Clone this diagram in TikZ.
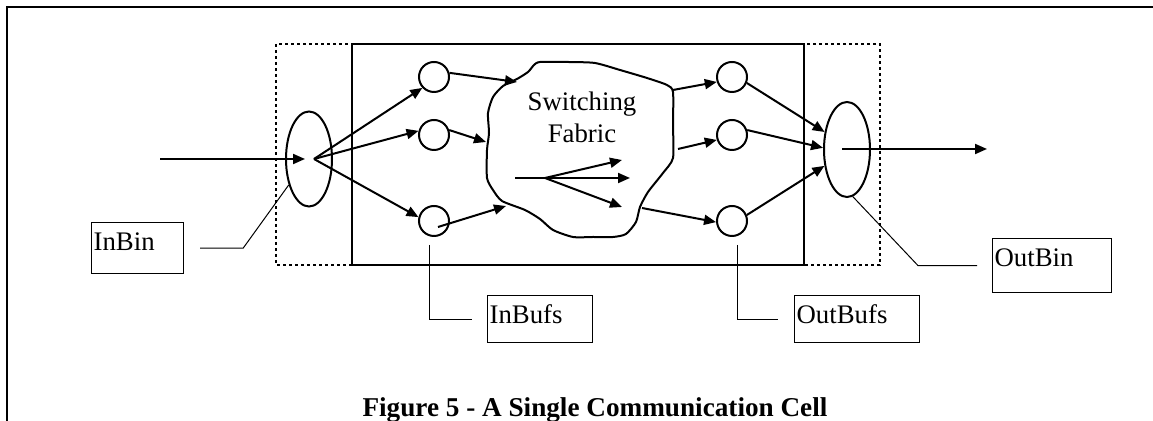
\documentclass[tikz,border=0pt]{standalone}
\usepackage{fontspec}
\setmainfont{Liberation Serif}
\usetikzlibrary{shapes.geometric,arrows.meta}
\tikzset{
  buf/.style={circle, draw, line width=1pt, minimum size=15pt, inner sep=0pt},
  bin/.style={ellipse, draw, line width=1pt, minimum width=23pt, minimum height=47.5pt, inner sep=0pt},
  lbl/.style={draw, line width=0.6pt, anchor=north west, align=left, inner sep=1pt, text height=13pt},
  flow/.style={line width=1pt, -{Triangle[length=6pt,width=5pt]}},
  leader/.style={line width=0.5pt},
}
\begin{document}
\begin{tikzpicture}[x=0.5pt, y=-0.5pt, font=\fontsize{13.4}{16}\selectfont]
   \useasboundingbox (0,0) rectangle (1153,421);
   \draw[line width=1.2pt] (1153,7) -- (7,7) -- (7,421);
   \draw[line width=1pt, dash pattern=on 1.5pt off 1.5pt] (276,44) rectangle (880,265);
   \draw[line width=1pt] (352,44) rectangle (804,265);
   \draw[line width=1pt]
     plot[smooth cycle, tension=0.4] coordinates {(540,62) (568,62) (595,63) (620,70) (647,78)
       (667,85) (673,92) (673,125) (673,158) (663,173) (648,192) (640,207) (636,222) (626,234)
       (613,237) (593,237) (573,237) (553,230) (540,219) (525,210) (502,201) (493,190) (487,178)
       (487,150) (489,133) (488,113) (493,97) (503,86) (517,79) (528,72) (534,65)};
   \node (fabric) at (582,117) [align=center] {Switching\\Fabric};
   \node[bin] (inbin)  at (309,159)   {};
   \node[bin] (outbin) at (847,149.5) {};
   \node[buf] (ib1) at (434,77)  {};
   \node[buf] (ib2) at (434,135) {};
   \node[buf] (ib3) at (434,221) {};
   \node[buf] (ob1) at (732,77)  {};
   \node[buf] (ob2) at (732,135) {};
   \node[buf] (ob3) at (732,221) {};
   \coordinate (inbeg)  at (160,159);
   \coordinate (fan)    at (314,159);
   \coordinate (ib3s)   at (438,227);
   \coordinate (fin1)   at (517,82);
   \coordinate (fin2)   at (486,142);
   \coordinate (fin3)   at (506,206);
   \coordinate (fout1)  at (673,90);
   \coordinate (fout2)  at (678,149);
   \coordinate (fout3)  at (642,208);
   \coordinate (fsrc)   at (515,178);
   \coordinate (fsplit) at (545,178);
   \coordinate (fe1)    at (622,160);
   \coordinate (fe2)    at (630,178);
   \coordinate (fe3)    at (622,207);
   \coordinate (obout)  at (842,149);
   \coordinate (outend) at (987,149);
   \draw[flow, shorten >=2pt] (inbeg) -- (inbin.center);
   \path[flow]
     (fan) edge (ib1.223)
           edge (ib2.165)
           edge (ib3.166)
     (ib1.15) edge (fin1)
     (ib2.18) edge (fin2)
     (ib3s)   edge (fin3);
   \draw[line width=1pt] (fsrc) -- (fsplit);
   \path[flow] (fsplit) edge (fe1) edge (fe2) edge (fe3);
   \path[flow]
     (fout1) edge (ob1.198)
     (fout2) edge (ob2.198)
     (fout3) edge (ob3.184)
     (ob1.-22) edge (outbin.142)
     (ob2.18)  edge (outbin.176)
     (ob3.22)  edge (outbin.216);
   \draw[flow] (obout) -- (outend);
   \node[lbl, text width=44pt,   text depth=10.5pt] (lbinbin)   at (91,222)  {InBin};
   \node[lbl, text width=50.5pt, text depth=8.5pt]  (lbinbufs)  at (487,295) {InBufs};
   \node[lbl, text width=60.5pt, text depth=8.5pt]  (lboutbufs) at (794,295) {OutBufs};
   \node[lbl, text width=57.5pt, text depth=12pt]   (lboutbin)  at (992,238) {OutBin};
   \draw[leader] ([xshift=8pt]lbinbin.east) -- ++(43,0) -- (inbin.232);
   \draw[leader] ([shift={(-2.5pt,-4pt)}]ib3.south) |- ([xshift=-7.5pt]lbinbufs.west);
   \draw[leader] ([shift={(2.5pt,-4pt)}]ob3.south) |- ([xshift=-8pt]lboutbufs.west);
   \draw[leader] ([xshift=-7.5pt]lboutbin.west) -- ++(-59,0) -- (outbin.277);
   \node[font=\fontsize{13.6}{16}\selectfont\bfseries, anchor=base] (caption) at (595,417)
     {Figure 5 - A Single Communication Cell};
\end{tikzpicture}
\end{document}
